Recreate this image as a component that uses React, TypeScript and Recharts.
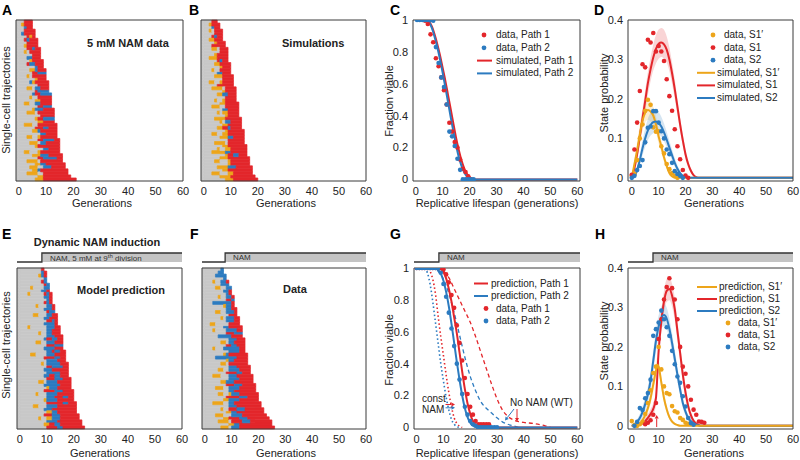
import React from 'react';
import { BarChart, Bar, Cell, XAxis, YAxis, ComposedChart, AreaChart, Line, Scatter, Area } from 'recharts';

const FONT = '"Liberation Sans", Arial, Helvetica, sans-serif';
const RED = '#E3262B';
const BLUE = '#2C7BC0';
const ORANGE = '#EDA51A';
const GREY = '#C8C8C8';
const INK = '#222222';
const FRAME = '#3A3A3A';
const TICK_STYLE = { fontSize: 11, fill: INK, fontFamily: FONT };

// ---------- axis ticks / domains ----------
const GEN_TICKS = [0, 10, 20, 30, 40, 50, 60];
const FRAC_TICKS = [0, 0.2, 0.4, 0.6, 0.8, 1];
const PROB_TICKS = [0, 0.1, 0.2, 0.3, 0.4];
const ROW_TICKS_A = [10, 20, 30, 40, 50, 60];
const ROW_TICKS_E = [10, 20, 30, 40, 50];
const TRAJ_X = [-1, 60];
const SURV_X = [-1, 61];
const PROB_X = [-1.4, 60];
const SURV_Y = [-0.01, 1];
const PROB_Y = [-0.008, 0.4];

// ---------- single-cell trajectories (run-length: g=grey, y=S1', r=S1, b=S2) ----------
const trajA = [
  'g2r3', 'g1y1r3', 'g2b1r2', 'g2r4', 'g1b1r4', 'g3r1y1r1', 'g2r1b1r3', 'g3r4', 'g2y1r4',
  'g3r2b1r2', 'g2y1g1r4', 'g5r3', 'g3b2r3', 'g4y1r4', 'g3r1b2r3', 'g6b1r2', 'g4y2b1r3', 'g5r2b3', 'g3y1g1r5',
  'g6y1r3', 'g4b1y1r5', 'g7r4', 'g3y2g1b2r3', 'g6r1b4', 'g5b1r2b4', 'g4y1g2r5', 'g6y2r4', 'g2y2g2b2r4',
  'g7r2b3', 'g5y1b3r4', 'g3y3g1r6', 'g8r5', 'g6y1r2b4', 'g7y2r4', 'g2y3g2r7', 'g6r3b2r3', 'g5y2b1r6',
  'g8b2r4', 'g3y2g2y1r6', 'g7r2b4r2', 'g4y3g1b2r5', 'g6y1r8', 'g9b2r4', 'g2y2g3y1r7', 'g5y3b3r5', 'g7r2b5r2', 'g3y4g1r8',
  'g6y2b2r7', 'g4y3g2b3r5', 'g5y2b1r10', 'g3y4g2r9', 'g7y2r10', 'g6y3r12',
];
const trajB = [
  'g3r2', 'g2y1r3', 'g3b1r2', 'g2y1g1r3', 'g4r3', 'g3r1b1r2', 'g2y2r3', 'g4y1r3', 'g3r5',
  'g3y2g1r3', 'g6r3', 'g4y1r4', 'g2y3r4', 'g5r1b1r2', 'g4y2r4', 'g6y1r3', 'g3y1g2r4', 'g5b2r3', 'g4y3r4',
  'g7r4', 'g2y2g2y1r4', 'g5r6', 'g3y4g1r4', 'g7y1r4', 'g5y2b2r3', 'g8r4', 'g4y1g2y1r4', 'g6y2r5',
  'g3y3g2r5', 'g7b2r4', 'g5y1g1y2r4', 'g8y1r4', 'g4y4r6', 'g6y1g1b2r4', 'g7y2r5', 'g5y2r2b1r4', 'g8y1r6',
  'g3y2g2y2r6', 'g6y3b2r4', 'g9r6', 'g4y4g1r6', 'g7y2r7', 'g5y1g2y2r6', 'g3y5b2r6', 'g8y1r2b2r3', 'g6y3r8', 'g4y2g3y1r7',
  'g9y1r7', 'g5y4b3r6', 'g7y2r9', 'g3y3g3y2r7', 'g6y4r9', 'g8y3r9',
];
const trajE = [
  'g8r1', 'g8b1r1', 'g7y1b1r1', 'g9b1', 'g8r1b1', 'g9r1b1', 'g4y1g4b2', 'g8b2r1', 'g3y1g5r1b1r1',
  'g9b2r1', 'g10b1r1', 'g9r1b1r1', 'g6y1g3b2r1', 'g9b3r1', 'g10r1b2', 'g5y2g3b2r2', 'g9b2r3', 'g10r2b1r1', 'g9b4r1',
  'g3y1g6b3r2', 'g10b2r3', 'g7y1g2b2r3', 'g10b3r3', 'g9b1r2b2r2', 'g6y2g2b3r3', 'g10r3b3', 'g9b4r3', 'g10b2r1b2r2',
  'g4y2g4b3r4', 'g9r4b2r2', 'g10b4r3', 'g8y1g1b5r3', 'g10r2b4r2', 'g9b3r6', 'g10b5r3', 'g9b2r2b2r3', 'g10r3b3r3',
  'g7y2g1b4r5', 'g9b6r4', 'g10y1b3r5', 'g9r4b3r4', 'g6y1g3b4r6', 'g10b3r3b2r2', 'g9y1b4r6', 'g10r6b2r3', 'g5y2g3b4r7', 'g9b3r9',
  'g10y2b2r7', 'g9r3b3r7', 'g7y1g2y2b3r7', 'g10b4r9', 'g9y2r2b2r8', 'g10r4b2r8',
];
const trajF = [
  'g6b1', 'g5b2', 'g4b4', 'g7b1', 'g3y1g2b2r1', 'g6b3', 'g4y2g2b2', 'g7b2r1', 'g8b1r1',
  'g5y1g2b2r1', 'g8r2b1', 'g3b7r1', 'g7y1b2r1', 'g8b2r2', 'g4y2g2b3r1', 'g9r3', 'g6y1g1b3r2', 'g8b3r2', 'g2y2g5r4',
  'g7b2r5', 'g3y1g4b4r2', 'g8r3b3', 'g5b5r4', 'g9b3r3', 'g6y2g1b2r4', 'g8r2b2r3', 'g3y1g3b6r2', 'g9b4r2',
  'g7y1b1r7', 'g4b8r4', 'g8y1b2r5', 'g6y2g1r7', 'g9b3r5', 'g5y2g2b4r4', 'g8r4b2r3', 'g3y3g3b3r6', 'g9b4r5',
  'g6y2b3r7', 'g8r3b3r5', 'g4y3g2b4r6', 'g9b2r8', 'g5y2g2y1b3r7', 'g8r5b3r4', 'g7y2b4r7', 'g3y4g2b2r10', 'g9b3r9', 'g6y1g2r3b3r7',
  'g8y2b2r10', 'g4y3g3b4r9', 'g7y2r4b3r8', 'g5y4g1r4b3r8', 'g9y2b2r12', 'g6y3g1b3r13',
];
const STATE_COLOR: Record<string, string> = { g: GREY, y: ORANGE, r: RED, b: BLUE };

// ---------- C: survival, constant NAM ----------
const cSimPath1 = [[0, 1], [4, 1], [5, 0.99], [6, 0.96], [7, 0.91], [8, 0.85], [9, 0.78], [10, 0.7], [11, 0.62], [12, 0.53], [13, 0.44], [14, 0.35], [15, 0.26], [16, 0.185], [17, 0.12], [18, 0.07], [19, 0.035], [20, 0.015], [21, 0.005], [22, 0], [60, 0]];
const cSimPath2 = [[0, 1], [4, 1], [5, 0.985], [6, 0.95], [7, 0.895], [8, 0.83], [9, 0.755], [10, 0.67], [11, 0.58], [12, 0.485], [13, 0.39], [14, 0.3], [15, 0.215], [16, 0.14], [17, 0.085], [18, 0.045], [19, 0.02], [20, 0.007], [21, 0.002], [22, 0], [60, 0]];
const cDataPath1 = [[3.5, 0.995], [4.5, 0.975], [5.5, 0.91], [6.5, 0.86], [7.5, 0.76], [8.5, 0.71], [9.5, 0.64], [10.5, 0.56], [11.5, 0.47], [12.5, 0.355], [13.5, 0.3], [14.5, 0.235], [15.5, 0.2], [16.5, 0.125], [17.5, 0.067], [18.5, 0.046], [19.5, 0.02], [20.5, 0]];
const cDataPath2 = [[0.5, 1], [1.5, 1], [2.5, 1], [3.5, 1], [4.5, 1], [5.5, 1], [6.5, 0.995], [7.5, 0.83], [8.5, 0.73], [9.5, 0.64], [10.5, 0.58], [11.5, 0.47], [12.5, 0.3], [13.5, 0.27], [14.5, 0.21], [15.5, 0.13], [16.5, 0.06], [17.5, 0], [18.5, 0], [19.5, 0], [20.5, 0], [21.5, 0]];

// ---------- D: state probabilities, constant NAM ----------
const dSimS1p = [[0, 0], [1, 0.035], [2, 0.07], [3, 0.11], [4, 0.145], [5, 0.165], [6, 0.172], [7, 0.168], [8, 0.158], [9, 0.135], [10, 0.105], [11, 0.08], [12, 0.052], [13, 0.03], [14, 0.012], [15, 0.004], [16, 0], [60, 0]];
const dBandS1p = [[0, 0, 0.005], [1, 0.025, 0.045], [2, 0.052, 0.09], [3, 0.088, 0.135], [4, 0.12, 0.17], [5, 0.14, 0.192], [6, 0.147, 0.2], [7, 0.143, 0.195], [8, 0.136, 0.18], [9, 0.115, 0.155], [10, 0.087, 0.125], [11, 0.065, 0.095], [12, 0.04, 0.065], [13, 0.021, 0.04], [14, 0.006, 0.02], [15, 0.001, 0.008], [16, 0, 0.002], [17, 0, 0]];
const dSimS1 = [[0, 0], [1, 0.025], [2, 0.06], [3, 0.105], [4, 0.15], [5, 0.195], [6, 0.24], [7, 0.275], [8, 0.305], [9, 0.327], [10, 0.34], [11, 0.343], [12, 0.338], [13, 0.325], [14, 0.3], [15, 0.265], [16, 0.225], [17, 0.18], [18, 0.135], [19, 0.095], [20, 0.06], [21, 0.035], [22, 0.018], [23, 0.007], [24, 0.002], [25, 0], [60, 0]];
const dBandS1 = [[0, 0, 0.005], [1, 0.015, 0.035], [2, 0.045, 0.075], [3, 0.085, 0.125], [4, 0.125, 0.175], [5, 0.168, 0.222], [6, 0.21, 0.268], [7, 0.245, 0.305], [8, 0.272, 0.338], [9, 0.29, 0.362], [10, 0.302, 0.376], [11, 0.306, 0.38], [12, 0.302, 0.375], [13, 0.292, 0.358], [14, 0.27, 0.33], [15, 0.238, 0.292], [16, 0.2, 0.25], [17, 0.16, 0.2], [18, 0.118, 0.152], [19, 0.08, 0.11], [20, 0.048, 0.072], [21, 0.026, 0.044], [22, 0.012, 0.024], [23, 0.004, 0.01], [24, 0.001, 0.003], [25, 0, 0]];
const dSimS2 = [[0, 0], [1, 0.003], [2, 0.02], [3, 0.045], [4, 0.075], [5, 0.1], [6, 0.12], [7, 0.134], [8, 0.141], [9, 0.143], [10, 0.139], [11, 0.13], [12, 0.115], [13, 0.097], [14, 0.077], [15, 0.057], [16, 0.038], [17, 0.023], [18, 0.012], [19, 0.005], [20, 0.002], [21, 0], [60, 0]];
const dBandS2 = [[0, 0, 0.002], [1, 0, 0.008], [2, 0.012, 0.03], [3, 0.032, 0.06], [4, 0.057, 0.095], [5, 0.078, 0.125], [6, 0.095, 0.15], [7, 0.107, 0.165], [8, 0.113, 0.172], [9, 0.115, 0.173], [10, 0.112, 0.167], [11, 0.105, 0.155], [12, 0.093, 0.138], [13, 0.078, 0.117], [14, 0.061, 0.094], [15, 0.044, 0.071], [16, 0.028, 0.05], [17, 0.015, 0.032], [18, 0.007, 0.018], [19, 0.002, 0.008], [20, 0, 0.003], [21, 0, 0]];
const dDataS1p = [[0, 0.005], [1, 0.01], [2, 0.045], [3, 0.1], [4, 0.135], [5, 0.17], [6, 0.198], [7, 0.185], [8, 0.128], [9, 0.117], [10, 0.118], [11, 0.08], [12, 0.062], [13, 0.035], [14, 0.022], [15, 0.012], [16, 0.005], [17, 0]];
const dDataS1 = [[0, 0.008], [1, 0.072], [2, 0.14], [3, 0.22], [4, 0.288], [5, 0.28], [6, 0.35], [7, 0.343], [8, 0.367], [9, 0.32], [10, 0.334], [11, 0.32], [12, 0.296], [13, 0.25], [14, 0.207], [15, 0.17], [16, 0.123], [17, 0.08], [18, 0.047], [19, 0.02], [20, 0.006], [21, 0]];
const dDataS2 = [[0, 0], [1, 0.005], [2, 0.02], [3, 0.03], [4, 0.045], [5, 0.09], [6, 0.127], [7, 0.13], [8, 0.169], [9, 0.169], [10, 0.14], [11, 0.118], [12, 0.1], [13, 0.072], [14, 0.06], [15, 0.038], [16, 0.017], [17, 0.01], [18, 0.005], [19, 0]];

// ---------- G: survival, dynamic NAM ----------
const gPredPath1 = [[0, 1], [8, 1], [9, 0.995], [10, 0.975], [11, 0.935], [12, 0.87], [13, 0.79], [14, 0.69], [15, 0.59], [16, 0.47], [17, 0.35], [18, 0.24], [19, 0.15], [20, 0.085], [21, 0.04], [22, 0.017], [23, 0.006], [24, 0.002], [25, 0], [60, 0]];
const gPredPath2 = [[0, 1], [7, 1], [8, 0.99], [9, 0.965], [10, 0.92], [11, 0.85], [12, 0.76], [13, 0.65], [14, 0.53], [15, 0.41], [16, 0.3], [17, 0.2], [18, 0.12], [19, 0.065], [20, 0.03], [21, 0.012], [22, 0.004], [23, 0], [60, 0]];
const gConstPath1 = [[0, 1], [4, 1], [5, 0.98], [6, 0.93], [7, 0.84], [8, 0.7], [9, 0.57], [10, 0.45], [11, 0.33], [12, 0.22], [13, 0.13], [14, 0.06], [15, 0.025], [16, 0.008], [17, 0]];
const gConstPath2 = [[0, 1], [3, 1], [4, 0.97], [5, 0.9], [6, 0.79], [7, 0.66], [8, 0.53], [9, 0.4], [10, 0.29], [11, 0.19], [12, 0.11], [13, 0.05], [14, 0.02], [15, 0.005], [16, 0]];
const gWtPath1 = [[0, 1], [8, 1], [10, 0.98], [12, 0.94], [14, 0.87], [16, 0.8], [18, 0.73], [20, 0.66], [22, 0.57], [24, 0.47], [26, 0.37], [28, 0.27], [30, 0.18], [32, 0.11], [34, 0.07], [36, 0.048], [38, 0.037], [40, 0.031], [44, 0.024], [48, 0.01], [50, 0]];
const gWtPath2 = [[0, 1], [6, 1], [8, 0.98], [10, 0.93], [12, 0.84], [14, 0.72], [16, 0.58], [18, 0.44], [20, 0.32], [22, 0.23], [24, 0.16], [26, 0.12], [28, 0.09], [30, 0.06], [32, 0.035], [34, 0.02], [36, 0.01], [38, 0]];
const gDataPath1 = [[0, 1], [1, 1], [2, 1], [3, 1], [4, 1], [5, 1], [6, 1], [7, 1], [8, 1], [9, 1], [10, 0.99], [11, 0.96], [12, 0.91], [13, 0.83], [14, 0.75], [15, 0.64], [16, 0.53], [17, 0.42], [18, 0.31], [19, 0.21], [20, 0.13], [21, 0.08], [22, 0.04], [23, 0.02], [24, 0.02], [25, 0.02], [26, 0.02], [27, 0.02]];
const gDataPath2 = [[0, 1], [1, 1], [2, 1], [3, 1], [4, 1], [5, 1], [6, 1], [7, 1], [8, 1], [9, 0.97], [10, 0.9], [11, 0.82], [12, 0.72], [13, 0.62], [14, 0.51], [15, 0.4], [16, 0.3], [17, 0.21], [18, 0.13], [19, 0.08], [20, 0.04], [21, 0.02], [22, 0.01], [23, 0], [24, 0], [25, 0], [26, 0], [27, 0], [28, 0], [29, 0], [30, 0]];

// ---------- H: state probabilities, dynamic NAM ----------
const hPredS1p = [[0, 0], [2, 0.001], [3, 0.005], [4, 0.014], [5, 0.027], [6, 0.045], [7, 0.07], [8, 0.105], [9, 0.14], [9.5, 0.155], [10, 0.15], [11, 0.11], [12, 0.07], [13, 0.042], [14, 0.022], [15, 0.011], [16, 0.005], [17, 0.002], [18, 0], [60, 0]];
const hBandS1p = [[0, 0, 0], [2, 0, 0.003], [3, 0.002, 0.009], [4, 0.008, 0.021], [5, 0.018, 0.037], [6, 0.033, 0.058], [7, 0.055, 0.086], [8, 0.088, 0.123], [9, 0.122, 0.158], [9.5, 0.138, 0.174], [10, 0.133, 0.168], [11, 0.095, 0.126], [12, 0.058, 0.083], [13, 0.033, 0.052], [14, 0.016, 0.029], [15, 0.007, 0.016], [16, 0.002, 0.008], [17, 0, 0.004], [18, 0, 0]];
const hPredS1 = [[0, 0], [2, 0.001], [3, 0.003], [4, 0.007], [5, 0.012], [6, 0.02], [7, 0.03], [8, 0.043], [9, 0.07], [10, 0.19], [11, 0.265], [12, 0.315], [13, 0.342], [14, 0.347], [15, 0.33], [16, 0.296], [17, 0.24], [18, 0.185], [19, 0.13], [20, 0.085], [21, 0.05], [22, 0.027], [23, 0.013], [24, 0.006], [25, 0.002], [26, 0], [60, 0]];
const hBandS1 = [[0, 0, 0.001], [2, 0, 0.003], [3, 0.001, 0.006], [4, 0.003, 0.012], [5, 0.006, 0.02], [6, 0.011, 0.03], [7, 0.018, 0.043], [8, 0.028, 0.058], [9, 0.052, 0.09], [10, 0.165, 0.215], [11, 0.238, 0.292], [12, 0.288, 0.343], [13, 0.314, 0.372], [14, 0.318, 0.378], [15, 0.302, 0.36], [16, 0.268, 0.325], [17, 0.214, 0.266], [18, 0.162, 0.208], [19, 0.11, 0.15], [20, 0.068, 0.102], [21, 0.037, 0.063], [22, 0.018, 0.036], [23, 0.007, 0.019], [24, 0.002, 0.01], [25, 0, 0.004], [26, 0, 0]];
const hPredS2 = [[0, 0], [1, 0.003], [2, 0.01], [3, 0.02], [4, 0.035], [5, 0.055], [6, 0.08], [7, 0.115], [8, 0.165], [9, 0.215], [10, 0.252], [11, 0.274], [12, 0.281], [13, 0.272], [14, 0.246], [15, 0.21], [16, 0.17], [17, 0.13], [18, 0.092], [19, 0.058], [20, 0.036], [21, 0.02], [22, 0.012], [23, 0.006], [24, 0.003], [25, 0.001], [26, 0], [60, 0]];
const hBandS2 = [[0, 0, 0.002], [1, 0, 0.007], [2, 0.004, 0.017], [3, 0.011, 0.03], [4, 0.022, 0.049], [5, 0.038, 0.073], [6, 0.06, 0.1], [7, 0.092, 0.138], [8, 0.138, 0.19], [9, 0.187, 0.243], [10, 0.224, 0.28], [11, 0.246, 0.302], [12, 0.253, 0.309], [13, 0.245, 0.3], [14, 0.221, 0.272], [15, 0.187, 0.234], [16, 0.149, 0.192], [17, 0.111, 0.15], [18, 0.076, 0.109], [19, 0.045, 0.072], [20, 0.026, 0.047], [21, 0.013, 0.028], [22, 0.007, 0.018], [23, 0.003, 0.01], [24, 0.001, 0.005], [25, 0, 0.002], [26, 0, 0]];
const hDataS1p = [[0, 0.012], [1, 0.002], [2, 0], [3, 0.004], [4, 0.01], [5, 0.03], [6, 0.058], [7, 0.09], [8, 0.134], [9, 0.15], [10, 0.2], [11, 0.143], [12, 0.1], [13, 0.083], [14, 0.08], [15, 0.05], [16, 0.037], [17, 0.034], [18, 0.02], [19, 0.015], [20, 0.008], [21, 0.005]];
const hDataS1 = [[5, 0.004], [6, 0.008], [7, 0.014], [8, 0.028], [9, 0.058], [10, 0.22], [11, 0.27], [12, 0.32], [13, 0.352], [14, 0.374], [15, 0.349], [16, 0.32], [17, 0.27], [18, 0.2], [19, 0.15], [20, 0.132], [21, 0.1], [22, 0.066], [23, 0.041], [24, 0.028], [25, 0.011], [26, 0.01], [27, 0.008]];
const hDataS2 = [[1, 0], [2, 0.01], [3, 0.045], [4, 0.04], [5, 0.07], [6, 0.083], [7, 0.117], [8, 0.228], [9, 0.245], [10, 0.262], [11, 0.292], [12, 0.27], [13, 0.25], [14, 0.228], [15, 0.19], [16, 0.156], [17, 0.125], [18, 0.109], [19, 0.075], [20, 0.049], [21, 0.02], [22, 0.007], [23, 0.003]];

// NAM switch-on generation (E, F, G, H)
const namStepE = 8.2;
const namStepF = 7.6;
const namStepG = 8.3;
const namStepH = 7.9;

// legends
const cLegend = [
  { kind: 'dot', color: RED, label: 'data, Path 1' },
  { kind: 'dot', color: BLUE, label: 'data, Path 2' },
  { kind: 'line', color: RED, label: 'simulated, Path 1' },
  { kind: 'line', color: BLUE, label: 'simulated, Path 2' },
];
const dLegend = [
  { kind: 'dot', color: ORANGE, label: 'data, S1\u2032' },
  { kind: 'dot', color: RED, label: 'data, S1' },
  { kind: 'dot', color: BLUE, label: 'data, S2' },
  { kind: 'line', color: ORANGE, label: 'simulated, S1\u2032' },
  { kind: 'line', color: RED, label: 'simulated, S1' },
  { kind: 'line', color: BLUE, label: 'simulated, S2' },
];
const gLegend = [
  { kind: 'line', color: RED, label: 'prediction, Path 1' },
  { kind: 'line', color: BLUE, label: 'prediction, Path 2' },
  { kind: 'dot', color: RED, label: 'data, Path 1' },
  { kind: 'dot', color: BLUE, label: 'data, Path 2' },
];
const hLegend = [
  { kind: 'line', color: ORANGE, label: 'prediction, S1\u2032' },
  { kind: 'line', color: RED, label: 'prediction, S1' },
  { kind: 'line', color: BLUE, label: 'prediction, S2' },
  { kind: 'dot', color: ORANGE, label: 'data, S1\u2032' },
  { kind: 'dot', color: RED, label: 'data, S1' },
  { kind: 'dot', color: BLUE, label: 'data, S2' },
];

// ---------- helpers ----------
const M_TOP = 8;
const M_RIGHT = 11;
const XH = 24;

const toPts = (pairs: number[][]) => pairs.map(([x, y]) => ({ x, y }));
const toBand = (tris: number[][]) => tris.map(([x, lo, hi]) => ({ x, band: [lo, hi] }));
const dotShape = (color: string, r = 2.3) => (p: any) =>
  p.cx == null ? <g /> : <circle cx={p.cx} cy={p.cy} r={r} fill={color} />;

function frameAxes(xDomain: number[], xTicks: number[], yDomain: number[], yTicks: number[]) {
  const common: any = {
    tick: false, tickSize: 3.5, stroke: FRAME, mirror: true, interval: 0,
    allowDataOverflow: true, axisLine: { stroke: FRAME, strokeWidth: 1 }, tickLine: { stroke: FRAME, strokeWidth: 1 },
  };
  return [
    <XAxis key="fb" xAxisId="fb" orientation="bottom" type="number" domain={xDomain} ticks={xTicks} {...common} />,
    <XAxis key="ft" xAxisId="ft" orientation="top" type="number" domain={xDomain} ticks={xTicks} {...common} />,
    <YAxis key="fl" yAxisId="fl" orientation="left" type="number" domain={yDomain} ticks={yTicks} {...common} />,
    <YAxis key="fr" yAxisId="fr" orientation="right" type="number" domain={yDomain} ticks={yTicks} {...common} />,
  ];
}

function buildRows(rows: string[]) {
  let maxSeg = 0;
  const data = rows.map((row, i) => {
    const segs = Array.from(row.matchAll(/([gyrb])(\d+)/g)).map((m) => ({ c: m[1], n: Number(m[2]) }));
    maxSeg = Math.max(maxSeg, segs.length);
    const rec: any = { row: i, lead: TRAJ_X[0], colors: segs.map((s) => STATE_COLOR[s.c]) };
    segs.forEach((s, k) => { rec['s' + k] = s.n; });
    return rec;
  });
  return { data, maxSeg };
}

function TrajPanel({ rows, px, py, pw, ph, rowDomain, rowTicks }: any) {
  const { data, maxSeg } = buildRows(rows);
  const segIdx = Array.from({ length: maxSeg }, (_, k) => k);
  const cell = (c: string | undefined, i: number) =>
    c ? <Cell key={i} fill={c} stroke={c} strokeWidth={0.7} /> : <Cell key={i} fill="none" stroke="none" />;
  return (
    <div style={{ position: 'absolute', left: px - 1, top: py - M_TOP }}>
      <BarChart width={pw + 1 + M_RIGHT} height={ph + XH + M_TOP} data={data} layout="vertical"
        margin={{ top: M_TOP, right: M_RIGHT, bottom: 0, left: 1 }} barCategoryGap={0} barGap={0} stackOffset="sign">
        <XAxis type="number" domain={TRAJ_X} ticks={GEN_TICKS} interval={0} height={XH}
          tickLine={false} axisLine={false} tickSize={0} tickMargin={6} tick={TICK_STYLE} allowDataOverflow />
        <YAxis type="category" dataKey="row" hide />
        <Bar dataKey="lead" stackId="t" isAnimationActive={false}>
          {data.map((d: any, i: number) => cell(d.colors[0], i))}
        </Bar>
        {segIdx.map((k) => (
          <Bar key={k} dataKey={'s' + k} stackId="t" isAnimationActive={false}>
            {data.map((d: any, i: number) => cell(d.colors[k], i))}
          </Bar>
        ))}
        {frameAxes(TRAJ_X, GEN_TICKS, rowDomain, rowTicks)}
      </BarChart>
    </div>
  );
}

function CurvePanel({ px, py, pw, ph, xDomain, yDomain, yTicks, children }: any) {
  const YW = 40;
  return (
    <div style={{ position: 'absolute', left: px - YW - 1, top: py - M_TOP }}>
      <ComposedChart width={pw + YW + 1 + M_RIGHT} height={ph + XH + M_TOP} margin={{ top: M_TOP, right: M_RIGHT, bottom: 0, left: 1 }}>
        <XAxis dataKey="x" type="number" domain={xDomain} ticks={GEN_TICKS} interval={0} height={XH}
          tickLine={false} axisLine={false} tickSize={0} tickMargin={6} tick={TICK_STYLE} allowDataOverflow />
        <YAxis dataKey="y" type="number" domain={yDomain} ticks={yTicks} interval={0} width={YW}
          tickLine={false} axisLine={false} tickSize={0} tickMargin={5} tick={TICK_STYLE} allowDataOverflow />
        {frameAxes(xDomain, GEN_TICKS, yDomain, yTicks)}
        {children}
      </ComposedChart>
    </div>
  );
}

function NamBar({ px, pw, step, domain }: any) {
  const data = [{ x: domain[0], v: 0 }, { x: step, v: 1 }, { x: domain[1], v: 1 }];
  return (
    <div style={{ position: 'absolute', left: px - 1, top: 252 }}>
      <AreaChart width={pw + 2} height={11} data={data} margin={{ top: 1, right: 1, bottom: 1, left: 1 }}>
        <XAxis dataKey="x" type="number" domain={domain} hide allowDataOverflow />
        <YAxis type="number" domain={[0, 1]} hide />
        <Area dataKey="v" type="stepAfter" stroke="#333" strokeWidth={1.3} fill="#C4C4C4" fillOpacity={1}
          baseValue={0} isAnimationActive={false} dot={false} activeDot={false} />
      </AreaChart>
    </div>
  );
}

const curve = (pairs: number[][], color: string, extra: any = {}) => (
  <Line data={toPts(pairs)} dataKey="y" type="monotone" stroke={color} strokeWidth={2} dot={false}
    activeDot={false} isAnimationActive={false} {...extra} />
);
const band = (tris: number[][], color: string) => (
  <Area data={toBand(tris)} dataKey="band" type="monotone" stroke="none" fill={color} fillOpacity={0.2}
    isAnimationActive={false} dot={false} activeDot={false} />
);
const dots = (pairs: number[][], color: string) => (
  <Scatter data={toPts(pairs)} fill={color} shape={dotShape(color)} isAnimationActive={false} />
);

function Txt({ x, y, children, anchor = 'start', size = 11, bold = false, color = INK, rotate = false }: any) {
  const tx = anchor === 'middle' ? '-50%' : anchor === 'end' ? '-100%' : '0';
  return (
    <div style={{
      position: 'absolute', left: x, top: y, whiteSpace: 'nowrap', fontSize: size, lineHeight: 1.15,
      fontWeight: bold ? 700 : 400, color, fontFamily: FONT,
      transform: rotate ? 'translate(-50%,-50%) rotate(-90deg)' : `translate(${tx},-50%)`,
    }}>{children}</div>
  );
}

function LegendTexts({ items, y0, dy, lineTextX, dotTextX }: any) {
  return items.map((it: any, i: number) => (
    <Txt key={i} x={it.kind === 'line' ? lineTextX : dotTextX} y={y0 + i * dy} size={10}>{it.label}</Txt>
  ));
}
function LegendSymbols({ items, y0, dy, lineX1, lineX2, dotX }: any) {
  return items.map((it: any, i: number) => it.kind === 'line'
    ? <line key={i} x1={lineX1} x2={lineX2} y1={y0 + i * dy} y2={y0 + i * dy} stroke={it.color} strokeWidth={2} />
    : <circle key={i} cx={dotX} cy={y0 + i * dy} r={2.4} fill={it.color} />);
}
function Arrow({ x1, y1, x2, y2, color }: any) {
  const a = Math.atan2(y2 - y1, x2 - x1);
  const L = 3.5, W = 2;
  const bx = x2 - L * Math.cos(a), by = y2 - L * Math.sin(a);
  const p1 = `${x2},${y2}`;
  const p2 = `${bx + W * Math.sin(a)},${by - W * Math.cos(a)}`;
  const p3 = `${bx - W * Math.sin(a)},${by + W * Math.cos(a)}`;
  return (
    <g>
      <line x1={x1} y1={y1} x2={bx} y2={by} stroke={color} strokeWidth={1} />
      <polygon points={`${p1} ${p2} ${p3}`} fill={color} />
    </g>
  );
}

const cLeg = { y0: 35, dy: 12.8, lineX1: 477, lineX2: 492, dotX: 484, lineTextX: 496, dotTextX: 496 };
const dLeg = { y0: 35, dy: 12.6, lineX1: 697, lineX2: 715, dotX: 713, lineTextX: 717, dotTextX: 724 };
const gLeg = { y0: 283.5, dy: 12.5, lineX1: 474, lineX2: 488, dotX: 486, lineTextX: 491, dotTextX: 496 };
const hLeg = { y0: 287, dy: 12, lineX1: 697, lineX2: 717, dotX: 728, lineTextX: 719, dotTextX: 738 };

export default function App() {
  return (
    <div style={{ position: 'absolute', left: 0, top: 0, width: 800, height: 460, background: '#fff', overflow: 'hidden', fontFamily: FONT }}>
      {/* Row 1 */}
      <TrajPanel rows={trajA} px={16} py={20} pw={167} ph={161} rowDomain={[0, 70]} rowTicks={ROW_TICKS_A} />
      <TrajPanel rows={trajB} px={201} py={20} pw={165} ph={161} rowDomain={[0, 70]} rowTicks={ROW_TICKS_A} />
      <CurvePanel px={413} py={20} pw={167} ph={161} xDomain={SURV_X} yDomain={SURV_Y} yTicks={FRAC_TICKS}>
        {curve(cSimPath1, RED)}
        {curve(cSimPath2, BLUE)}
        {dots(cDataPath1, RED)}
        {dots(cDataPath2, BLUE)}
      </CurvePanel>
      <CurvePanel px={628} py={20} pw={165} ph={161} xDomain={PROB_X} yDomain={PROB_Y} yTicks={PROB_TICKS}>
        {band(dBandS1, RED)}
        {band(dBandS1p, ORANGE)}
        {band(dBandS2, BLUE)}
        {curve(dSimS1, RED)}
        {curve(dSimS1p, ORANGE)}
        {curve(dSimS2, BLUE)}
        {dots(dDataS1p, ORANGE)}
        {dots(dDataS1, RED)}
        {dots(dDataS2, BLUE)}
      </CurvePanel>

      {/* Row 2 */}
      <NamBar px={17} pw={165} step={namStepE} domain={TRAJ_X} />
      <NamBar px={202} pw={164} step={namStepF} domain={TRAJ_X} />
      <NamBar px={414} pw={166} step={namStepG} domain={SURV_X} />
      <NamBar px={628} pw={165} step={namStepH} domain={PROB_X} />
      <TrajPanel rows={trajE} px={17} py={268} pw={165} ph={161} rowDomain={[0, 60]} rowTicks={ROW_TICKS_E} />
      <TrajPanel rows={trajF} px={202} py={268} pw={164} ph={161} rowDomain={[0, 60]} rowTicks={ROW_TICKS_E} />
      <CurvePanel px={414} py={268} pw={166} ph={161} xDomain={SURV_X} yDomain={SURV_Y} yTicks={FRAC_TICKS}>
        {curve(gWtPath1, RED, { strokeWidth: 1.3, strokeDasharray: '4 3' })}
        {curve(gWtPath2, BLUE, { strokeWidth: 1.3, strokeDasharray: '4 3' })}
        {curve(gConstPath1, RED, { strokeWidth: 1.6, strokeDasharray: '1.5 2.5' })}
        {curve(gConstPath2, BLUE, { strokeWidth: 1.6, strokeDasharray: '1.5 2.5' })}
        {curve(gPredPath1, RED)}
        {curve(gPredPath2, BLUE)}
        {dots(gDataPath1, RED)}
        {dots(gDataPath2, BLUE)}
      </CurvePanel>
      <CurvePanel px={628} py={268} pw={165} ph={161} xDomain={PROB_X} yDomain={PROB_Y} yTicks={PROB_TICKS}>
        {band(hBandS1, RED)}
        {band(hBandS2, BLUE)}
        {band(hBandS1p, ORANGE)}
        {curve(hPredS1, RED)}
        {curve(hPredS2, BLUE)}
        {curve(hPredS1p, ORANGE)}
        {dots(hDataS1p, ORANGE)}
        {dots(hDataS1, RED)}
        {dots(hDataS2, BLUE)}
      </CurvePanel>

      {/* overlay symbols */}
      <svg width={800} height={460} style={{ position: 'absolute', left: 0, top: 0, pointerEvents: 'none' }}>
        <LegendSymbols items={cLegend} {...cLeg} />
        <LegendSymbols items={dLegend} {...dLeg} />
        <LegendSymbols items={gLegend} {...gLeg} />
        <LegendSymbols items={hLegend} {...hLeg} />
        <Arrow x1={445.5} y1={404.5} x2={455} y2={404.5} color={RED} />
        <Arrow x1={445.5} y1={407.8} x2={455} y2={407.8} color={BLUE} />
        <Arrow x1={514} y1={409} x2={505} y2={420.5} color={BLUE} />
        <Arrow x1={517} y1={409} x2={517} y2={421.5} color={RED} />
        <Arrow x1={656.7} y1={427} x2={656.7} y2={415} color={RED} />
      </svg>

      {/* panel letters */}
      <Txt x={2} y={10} size={14} bold color="#000">A</Txt>
      <Txt x={189} y={10} size={14} bold color="#000">B</Txt>
      <Txt x={390} y={10} size={14} bold color="#000">C</Txt>
      <Txt x={594} y={10} size={14} bold color="#000">D</Txt>
      <Txt x={2} y={234} size={14} bold color="#000">E</Txt>
      <Txt x={190} y={234} size={14} bold color="#000">F</Txt>
      <Txt x={390} y={234} size={14} bold color="#000">G</Txt>
      <Txt x={595} y={234} size={14} bold color="#000">H</Txt>

      {/* in-panel titles */}
      <Txt x={87} y={43} bold>5 mM NAM data</Txt>
      <Txt x={282} y={43} bold>Simulations</Txt>
      <Txt x={97} y={242} bold anchor="middle">Dynamic NAM induction</Txt>
      <Txt x={77} y={290} bold>Model prediction</Txt>
      <Txt x={283} y={289} bold>Data</Txt>

      {/* NAM bar labels */}
      <Txt x={50} y={257.5} size={8} color="#333">NAM, 5 mM at 9<sup style={{ fontSize: 6 }}>th</sup> division</Txt>
      <Txt x={233} y={257.5} size={8} color="#333">NAM</Txt>
      <Txt x={447} y={257.5} size={8} color="#333">NAM</Txt>
      <Txt x={661} y={257.5} size={8} color="#333">NAM</Txt>

      {/* axis titles */}
      <Txt x={102} y={203} anchor="middle">Generations</Txt>
      <Txt x={286} y={203} anchor="middle">Generations</Txt>
      <Txt x={497} y={203} anchor="middle">Replicative lifespan (generations)</Txt>
      <Txt x={714} y={203} anchor="middle">Generations</Txt>
      <Txt x={100} y={453} anchor="middle">Generations</Txt>
      <Txt x={286} y={453} anchor="middle">Generations</Txt>
      <Txt x={497} y={453} anchor="middle">Replicative lifespan (generations)</Txt>
      <Txt x={714} y={453} anchor="middle">Generations</Txt>
      <Txt x={5.5} y={100} rotate>Single-cell trajectories</Txt>
      <Txt x={5.5} y={345} rotate>Single-cell trajectories</Txt>
      <Txt x={389} y={101} rotate>Fraction viable</Txt>
      <Txt x={389} y={350} rotate>Fraction viable</Txt>
      <Txt x={604} y={93} rotate>State probability</Txt>
      <Txt x={604} y={341} rotate>State probability</Txt>

      {/* legends */}
      <LegendTexts items={cLegend} {...cLeg} />
      <LegendTexts items={dLegend} {...dLeg} />
      <LegendTexts items={gLegend} {...gLeg} />
      <LegendTexts items={hLegend} {...hLeg} />

      {/* G annotations */}
      <Txt x={422} y={399} size={10}>const</Txt>
      <Txt x={422} y={410} size={10}>NAM</Txt>
      <Txt x={510} y={402.5} size={10}>No NAM (WT)</Txt>
    </div>
  );
}
